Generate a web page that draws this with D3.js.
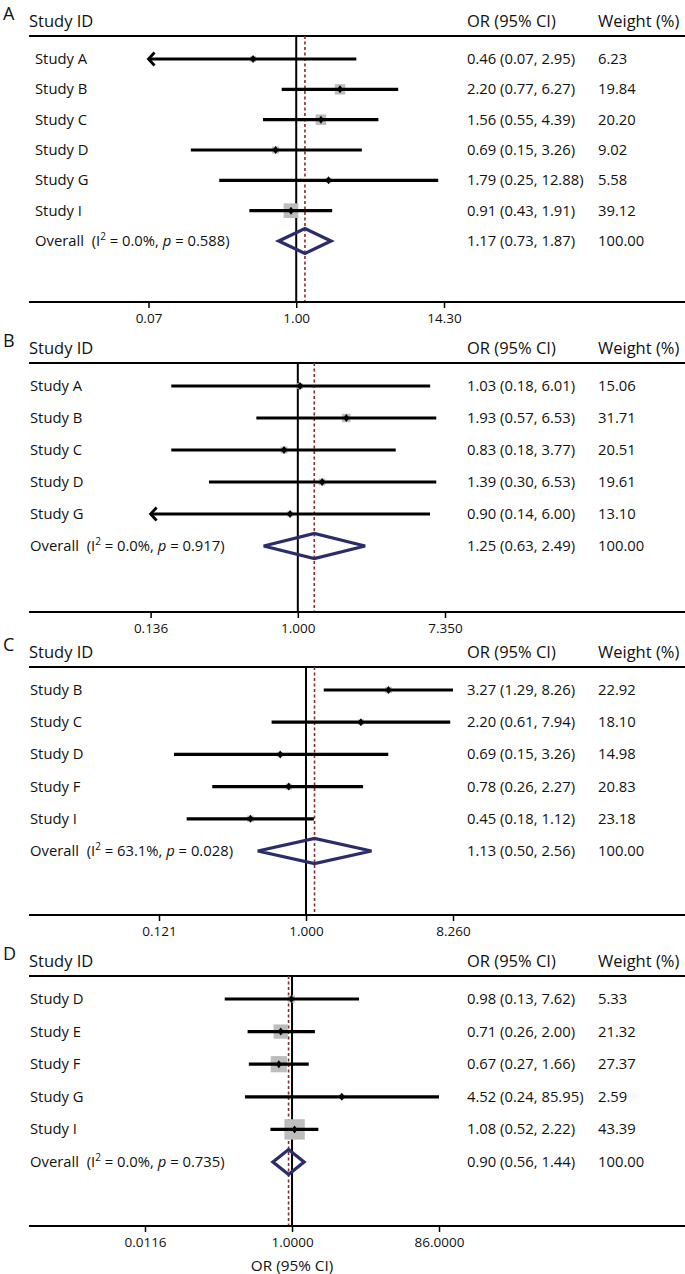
<!DOCTYPE html>
<html><head><meta charset="utf-8">
<script src="https://cdn.jsdelivr.net/npm/d3@7"></script>
<style>body{margin:0;background:#fff} svg{display:block} text{font-family:"Open Sans",sans-serif;fill:#111}</style>
</head><body><svg id="c" width="685" height="1274"></svg>
<script>
// ---------- data ----------
const studiesA = ["Study A","Study B","Study C","Study D","Study G","Study I"];
const orA  = [0.46, 2.20, 1.56, 0.69, 1.79, 0.91];
const loA  = [0.07, 0.77, 0.55, 0.15, 0.25, 0.43];
const hiA  = [2.95, 6.27, 4.39, 3.26, 12.88, 1.91];
const wA   = [6.23, 19.84, 20.20, 9.02, 5.58, 39.12];
const overallA = [1.17, 0.73, 1.87];
const hetA = ["0.0%", "0.588"];
const ticksA = [0.07, 1, 14.30];
const tickLabelsA = ["0.07", "1.00", "14.30"];
const truncA = ["Study A"];

const studiesB = ["Study A","Study B","Study C","Study D","Study G"];
const orB  = [1.03, 1.93, 0.83, 1.39, 0.90];
const loB  = [0.18, 0.57, 0.18, 0.30, 0.14];
const hiB  = [6.01, 6.53, 3.77, 6.53, 6.00];
const wB   = [15.06, 31.71, 20.51, 19.61, 13.10];
const overallB = [1.25, 0.63, 2.49];
const hetB = ["0.0%", "0.917"];
const ticksB = [0.136, 1, 7.350];
const tickLabelsB = ["0.136", "1.000", "7.350"];
const truncB = ["Study G"];

const studiesC = ["Study B","Study C","Study D","Study F","Study I"];
const orC  = [3.27, 2.20, 0.69, 0.78, 0.45];
const loC  = [1.29, 0.61, 0.15, 0.26, 0.18];
const hiC  = [8.26, 7.94, 3.26, 2.27, 1.12];
const wC   = [22.92, 18.10, 14.98, 20.83, 23.18];
const overallC = [1.13, 0.50, 2.56];
const hetC = ["63.1%", "0.028"];
const ticksC = [0.121, 1, 8.260];
const tickLabelsC = ["0.121", "1.000", "8.260"];
const truncC = [];

const studiesD = ["Study D","Study E","Study F","Study G","Study I"];
const orD  = [0.98, 0.71, 0.67, 4.52, 1.08];
const loD  = [0.13, 0.26, 0.27, 0.24, 0.52];
const hiD  = [7.62, 2.00, 1.66, 85.95, 2.22];
const wD   = [5.33, 21.32, 27.37, 2.59, 43.39];
const overallD = [0.90, 0.56, 1.44];
const hetD = ["0.0%", "0.735"];
const ticksD = [0.0116, 1, 86.0000];
const tickLabelsD = ["0.0116", "1.0000", "86.0000"];
const truncD = [];

const xAxisTitle = "OR (95% CI)";

const panels = [
  {id:"A", studies:studiesA, or:orA, lo:loA, hi:hiA, w:wA, overall:overallA, het:hetA, ticks:ticksA, tickLabels:tickLabelsA, trunc:truncA},
  {id:"B", studies:studiesB, or:orB, lo:loB, hi:hiB, w:wB, overall:overallB, het:hetB, ticks:ticksB, tickLabels:tickLabelsB, trunc:truncB},
  {id:"C", studies:studiesC, or:orC, lo:loC, hi:hiC, w:wC, overall:overallC, het:hetC, ticks:ticksC, tickLabels:tickLabelsC, trunc:truncC},
  {id:"D", studies:studiesD, or:orD, lo:loD, hi:hiD, w:wD, overall:overallD, het:hetD, ticks:ticksD, tickLabels:tickLabelsD, trunc:truncD}
];

// ---------- layout ----------
const layout = {
  A:{first:59,  last:241,  axis:302,  x:[148.5,444], box:2.35, labelX:35},
  B:{first:386, last:546,  axis:612,  x:[150.6,445], box:1.5,  labelX:30},
  C:{first:690, last:851,  axis:915,  x:[159,453],   box:1.35, labelX:30},
  D:{first:999, last:1162, axis:1226, x:[145,439],   box:3.1,  labelX:30}
};
const f2 = d3.format(".2f");
const svg = d3.select("#c");
const FS = 14.8, HFS = 16.5;
const OR_X = 467, W_X = 598;
const navy = "#2b2d6b", red = "#8b2a2a", gray = "#bdbdbd";

panels.forEach(p => {
  const L = layout[p.id];
  const g = svg.append("g");
  const x = d3.scaleLog().domain([p.ticks[0], p.ticks[2]]).range(L.x);
  const rows = [...p.studies, "Overall"];
  const y = d3.scalePoint().domain(rows).range([L.first, L.last]);
  const lineY = L.first - 23;

  // letter & headers
  g.append("text").attr("x", 3).attr("y", lineY - 16).attr("font-size", 18).text(p.id);
  g.append("text").attr("x", 29).attr("y", lineY - 9).attr("font-size", HFS).text("Study ID");
  g.append("text").attr("x", OR_X).attr("y", lineY - 9).attr("font-size", HFS).text("OR (95% CI)");
  g.append("text").attr("x", W_X).attr("y", lineY - 9).attr("font-size", HFS).text("Weight (%)");
  g.append("line").attr("x1", 29).attr("x2", 685).attr("y1", lineY).attr("y2", lineY)
    .attr("stroke", "#000").attr("stroke-width", 2.2);

  // reference lines
  g.append("line").attr("x1", x(1)).attr("x2", x(1)).attr("y1", lineY).attr("y2", L.axis)
    .attr("stroke", "#000").attr("stroke-width", 2);
  g.append("line").attr("x1", x(p.overall[0])).attr("x2", x(p.overall[0])).attr("y1", lineY).attr("y2", L.axis)
    .attr("stroke", red).attr("stroke-width", 1.6).attr("stroke-dasharray", "3,2.5");

  const data = p.studies.map((s, i) => ({s, or:p.or[i], lo:p.lo[i], hi:p.hi[i], w:p.w[i], trunc:p.trunc.includes(s)}));

  // weight boxes
  g.selectAll(".box").data(data).enter().append("rect")
    .attr("x", d => x(d.or) - L.box * Math.sqrt(d.w) / 2)
    .attr("y", d => y(d.s) - L.box * Math.sqrt(d.w) / 2)
    .attr("width", d => L.box * Math.sqrt(d.w))
    .attr("height", d => L.box * Math.sqrt(d.w))
    .attr("fill", gray);

  // CI lines
  g.selectAll(".ci").data(data).enter().append("line")
    .attr("x1", d => d.trunc ? x.range()[0] : x(d.lo))
    .attr("x2", d => x(d.hi))
    .attr("y1", d => y(d.s)).attr("y2", d => y(d.s))
    .attr("stroke", "#000").attr("stroke-width", 3.2);

  // arrows for truncated CI
  g.selectAll(".arr").data(data.filter(d => d.trunc)).enter().append("path")
    .attr("d", d => { const x0 = x.range()[0], yy = y(d.s); return `M${x0+6},${yy-6.5}L${x0},${yy}L${x0+6},${yy+6.5}`; })
    .attr("fill", "none").attr("stroke", "#000").attr("stroke-width", 2.8);

  // point markers
  g.selectAll(".pt").data(data).enter().append("path")
    .attr("d", d => { const cx = x(d.or), cy = y(d.s); return `M${cx},${cy-4}L${cx+3},${cy}L${cx},${cy+4}L${cx-3},${cy}Z`; })
    .attr("fill", "#000");

  // overall diamond
  const yo = y("Overall");
  g.append("path")
    .attr("d", `M${x(p.overall[1])},${yo}L${x(p.overall[0])},${yo-12.5}L${x(p.overall[2])},${yo}L${x(p.overall[0])},${yo+12.5}Z`)
    .attr("fill", "none").attr("stroke", navy).attr("stroke-width", 3.3).attr("stroke-linejoin", "miter");

  // study texts
  g.selectAll(".lab").data(data).enter().append("text")
    .attr("x", L.labelX).attr("y", d => y(d.s) + 5).attr("font-size", FS).text(d => d.s);
  g.selectAll(".ort").data(data).enter().append("text")
    .attr("x", OR_X).attr("y", d => y(d.s) + 5).attr("font-size", FS)
    .text(d => `${f2(d.or)} (${f2(d.lo)}, ${f2(d.hi)})`);
  g.selectAll(".wt").data(data).enter().append("text")
    .attr("x", W_X).attr("y", d => y(d.s) + 5).attr("font-size", FS).text(d => f2(d.w));

  // overall texts
  const ot = g.append("text").attr("x", L.labelX).attr("y", yo + 5).attr("font-size", FS).attr("xml:space", "preserve");
  ot.append("tspan").text("Overall  (I");
  ot.append("tspan").attr("dy", -6).attr("font-size", 10).text("2");
  ot.append("tspan").attr("dy", 6).text(` = ${p.het[0]}, `);
  ot.append("tspan").attr("font-style", "italic").text("p");
  ot.append("tspan").text(` = ${p.het[1]})`);
  g.append("text").attr("x", OR_X).attr("y", yo + 5).attr("font-size", FS)
    .text(`${f2(p.overall[0])} (${f2(p.overall[1])}, ${f2(p.overall[2])})`);
  g.append("text").attr("x", W_X).attr("y", yo + 5).attr("font-size", FS).text(f2(100));

  // x axis
  const ax = g.append("g").attr("transform", `translate(0,${L.axis})`)
    .call(d3.axisBottom(x).tickValues(p.ticks).tickFormat((d, i) => p.tickLabels[i]).tickSize(6).tickPadding(5));
  ax.select(".domain").remove();
  ax.selectAll(".tick line").attr("stroke", "#000").attr("stroke-width", 1.5);
  ax.selectAll(".tick text").attr("font-size", 13.5).attr("font-family", "Open Sans").attr("fill", "#111");
  g.append("line").attr("x1", 29).attr("x2", 685).attr("y1", L.axis).attr("y2", L.axis)
    .attr("stroke", "#000").attr("stroke-width", 2.2);

  if (p.id === "D") {
    g.append("text").attr("x", x(1)).attr("y", L.axis + 45).attr("text-anchor", "middle")
      .attr("font-size", 15.3).text(xAxisTitle);
  }
});
</script>
</body></html>
